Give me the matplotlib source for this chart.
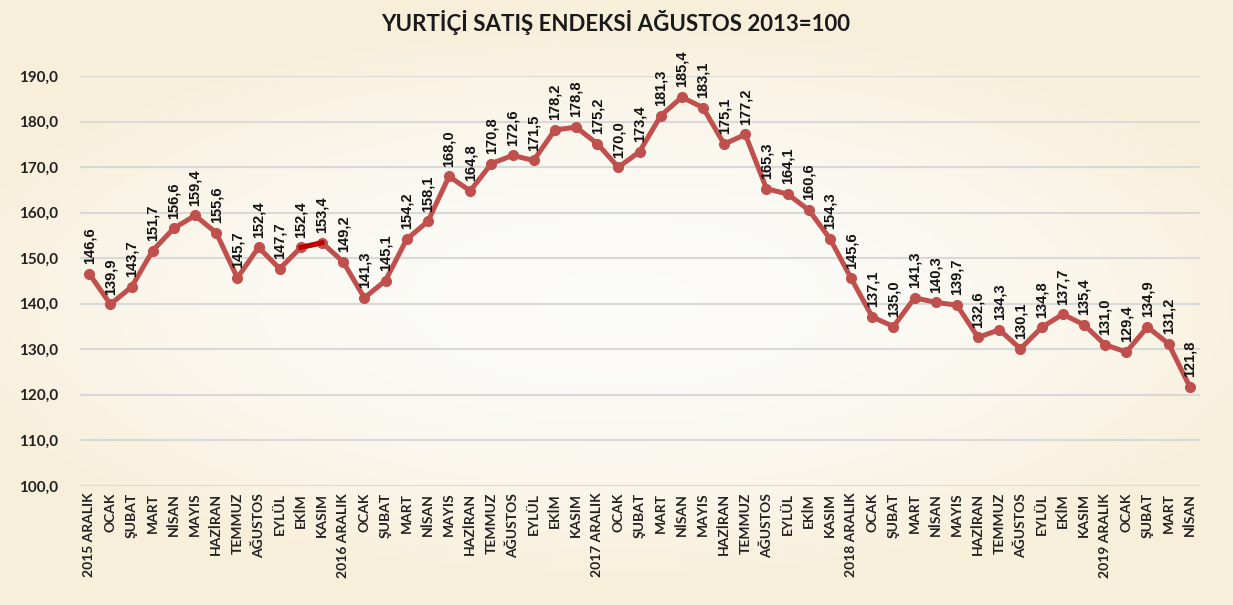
import numpy as np
import matplotlib
matplotlib.use("Agg")
import matplotlib.pyplot as plt

# aylar (x ekseni etiketleri)
months = ["2015 ARALIK", "OCAK", "ŞUBAT", "MART", "NİSAN", "MAYIS", "HAZİRAN", "TEMMUZ",
          "AĞUSTOS", "EYLÜL", "EKİM", "KASIM",
          "2016 ARALIK", "OCAK", "ŞUBAT", "MART", "NİSAN", "MAYIS", "HAZİRAN", "TEMMUZ",
          "AĞUSTOS", "EYLÜL", "EKİM", "KASIM",
          "2017 ARALIK", "OCAK", "ŞUBAT", "MART", "NİSAN", "MAYIS", "HAZİRAN", "TEMMUZ",
          "AĞUSTOS", "EYLÜL", "EKİM", "KASIM",
          "2018 ARALIK", "OCAK", "ŞUBAT", "MART", "NİSAN", "MAYIS", "HAZİRAN", "TEMMUZ",
          "AĞUSTOS", "EYLÜL", "EKİM", "KASIM",
          "2019 ARALIK", "OCAK", "ŞUBAT", "MART", "NİSAN"]

# endeks degerleri
index_values = [146.6, 139.9, 143.7, 151.7, 156.6, 159.4, 155.6, 145.7, 152.4, 147.7, 152.4, 153.4,
                149.2, 141.3, 145.1, 154.2, 158.1, 168.0, 164.8, 170.8, 172.6, 171.5, 178.2, 178.8,
                175.2, 170.0, 173.4, 181.3, 185.4, 183.1, 175.1, 177.2, 165.3, 164.1, 160.6, 154.3,
                145.6, 137.1, 135.0, 141.3, 140.3, 139.7, 132.6, 134.3, 130.1, 134.8, 137.7, 135.4,
                131.0, 129.4, 134.9, 131.2, 121.8]

y_ticks = [100, 110, 120, 130, 140, 150, 160, 170, 180, 190]

x = np.arange(len(index_values))
line_col = "#C0504D"

fig = plt.figure(figsize=(12.33, 6.05), dpi=100)
fig.patch.set_facecolor("#FAF4E4")

# hafif arka plan gecisi
bg = fig.add_axes([0, 0, 1, 1], zorder=-10)
gx, gy = np.meshgrid(np.linspace(-1, 1, 300), np.linspace(-1, 1, 150))
r = np.clip(np.sqrt((gx * 0.9) ** 2 + (gy * 1.1) ** 2), 0, 1)
c0 = np.array([0.985, 0.985, 0.975])
c1 = np.array([0.975, 0.94, 0.86])
img = c0[None, None, :] * (1 - r[..., None] ** 2) + c1[None, None, :] * r[..., None] ** 2
bg.imshow(img, aspect="auto", extent=[0, 1, 0, 1])
bg.axis("off")

ax = fig.add_axes([0.065, 0.197, 0.908, 0.677])
ax.set_facecolor("none")

ax.plot(x, index_values, color=line_col, lw=3.6, marker="o", ms=7,
        markerfacecolor=line_col, markeredgecolor=line_col, solid_joinstyle="round", zorder=3)
# vurgulanan parca (EKİM - KASIM 2016)
ax.plot(x[10:12], index_values[10:12], color="#C00000", lw=3.6, zorder=4)

for xi, v in zip(x, index_values):
    ax.annotate(f"{v:.1f}".replace(".", ","), (xi, v), xytext=(0, 7), textcoords="offset points",
                rotation=90, ha="center", va="bottom", fontsize=10.5, fontweight="bold",
                family="Liberation Sans", color="#111111", annotation_clip=False)

ax.set_ylim(100, 190)
ax.set_xlim(-0.43, len(index_values) - 1 + 0.47)
ax.set_yticks(y_ticks)
ax.set_yticklabels([f"{t:.1f}".replace(".", ",") for t in y_ticks],
                   fontsize=11, fontweight="bold", family="Lato", color="#222222")
ax.set_xticks(x)
ax.set_xticklabels(months, rotation=90, fontsize=10, fontweight="bold",
                   family="Lato", color="#222222")
ax.tick_params(axis="both", length=0)
ax.tick_params(axis="y", pad=44)
for lab in ax.get_yticklabels():
    lab.set_horizontalalignment("left")
ax.tick_params(axis="x", pad=5)
ax.grid(axis="y", color="#D9D9D9", lw=1.5)
ax.set_axisbelow(True)
for s in ax.spines.values():
    s.set_visible(False)

fig.text(0.499, 0.963, "YURTİÇİ SATIŞ ENDEKSİ AĞUSTOS 2013=100", ha="center", va="center",
         fontsize=16, fontweight="bold", family="Lato", color="#1a1a1a")

fig.savefig("out.png", dpi=100, facecolor=fig.get_facecolor())
